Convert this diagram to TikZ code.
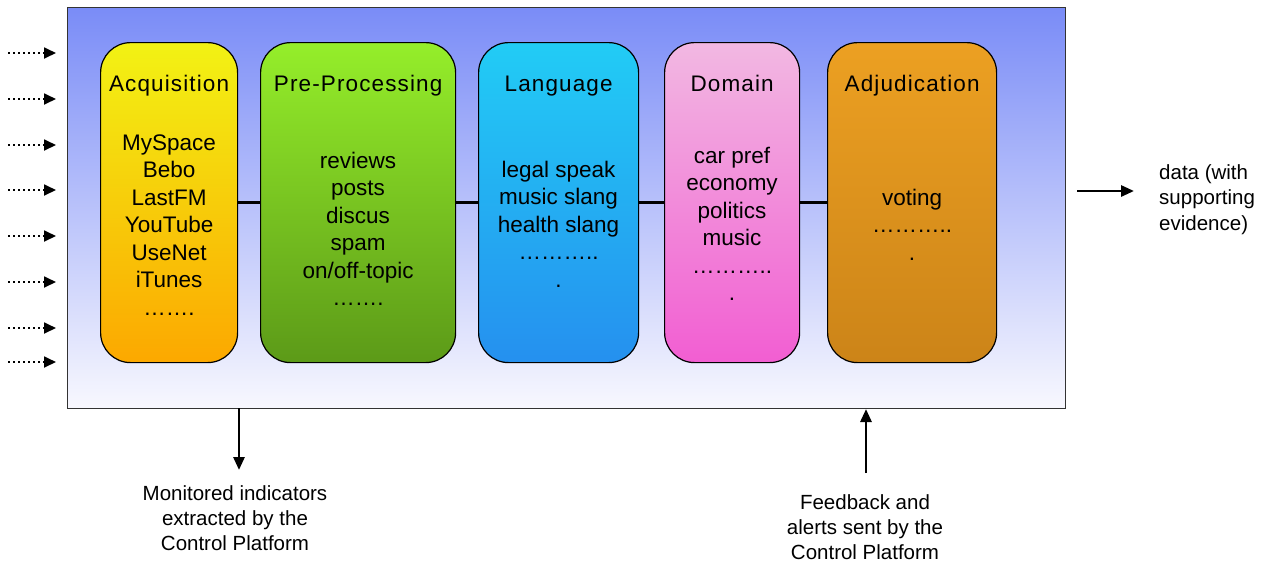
\documentclass[tikz,border=0pt]{standalone}
\usepackage{fontspec}
\setmainfont{Liberation Sans}
\usetikzlibrary{arrows.meta}
\definecolor{frameTop}{HTML}{7A8CF7}
\definecolor{frameBot}{HTML}{F8F8FE}
\definecolor{acqTop}{HTML}{F2F214}
\definecolor{acqBot}{HTML}{FCA800}
\definecolor{preTop}{HTML}{95EE2A}
\definecolor{preBot}{HTML}{5C9A18}
\definecolor{lanTop}{HTML}{22CCF5}
\definecolor{lanBot}{HTML}{2590EF}
\definecolor{domTop}{HTML}{F2B8E2}
\definecolor{domBot}{HTML}{F25ED2}
\definecolor{adjTop}{HTML}{ECA022}
\definecolor{adjBot}{HTML}{CC8418}
\begin{document}
\begin{tikzpicture}[x=1pt,y=-1pt,
  frame/.style={draw=black!80, line width=1.4pt, inner sep=0pt, anchor=north west,
    top color=frameTop, bottom color=frameBot},
  stagebox/.style={draw=black, line width=1.2pt, inner sep=0pt, anchor=north west,
    rounded corners=30pt, minimum height=320},
  stagetitle/.style={anchor=base, inner sep=0pt,
    font=\fontsize{22.5}{27.5}\selectfont\addfontfeature{LetterSpace=5}},
  items/.style={anchor=base, inner sep=0pt, align=center, font=\fontsize{22.5}{27.5}\selectfont},
  note/.style={anchor=base, inner sep=0pt, align=center, font=\fontsize{20.5}{25}\selectfont},
  link/.style={line width=3pt},
  inarrow/.style={line width=1.8pt, dash pattern=on 1.8pt off 3.2pt,
    -{Triangle[length=12pt,width=11pt,sep=0pt]}},
  outarrow/.style={line width=2.8pt, -{Triangle[length=13pt,width=11pt]}}
]
\useasboundingbox (0,0) rectangle (1265,566);

% enclosing platform
\node[frame, minimum width=998, minimum height=401] (frame) at (67,7) {};

% processing stages
\node[stagebox, minimum width=137, top color=acqTop, bottom color=acqBot] (acq) at (100,42) {};
\node[stagebox, minimum width=195, top color=preTop, bottom color=preBot] (pre) at (260,42) {};
\node[stagebox, minimum width=160, top color=lanTop, bottom color=lanBot] (lan) at (478,42) {};
\node[stagebox, minimum width=135, top color=domTop, bottom color=domBot] (dom) at (664,42) {};
\node[stagebox, minimum width=169, top color=adjTop, bottom color=adjBot] (adj) at (827,42) {};

% links between stages
\draw[link] (acq.east) -- (pre.west);
\draw[link] (pre.east) -- (lan.west);
\draw[link] (lan.east) -- (dom.west);
\draw[link] (dom.east) -- (adj.west);

% stage titles
\node[stagetitle] (acqT) at (acq.center |- 0,91) {Acquisition};
\node[stagetitle] (preT) at (pre.center |- 0,91) {Pre-Processing};
\node[stagetitle] (lanT) at (lan.center |- 0,91) {Language};
\node[stagetitle] (domT) at (dom.center |- 0,91) {Domain};
\node[stagetitle] (adjT) at (adj.center |- 0,91) {Adjudication};

% stage contents (base anchor sits on the last line)
\node[items] (acqI) at (acq.center |- 0,315) {MySpace\\Bebo\\LastFM\\YouTube\\UseNet\\iTunes\\…….};
\node[items] (preI) at (pre.center |- 0,305.5) {reviews\\posts\\discus\\spam\\on/off-topic\\…….};
\node[items] (lanI) at (lan.center |- 0,287) {legal speak\\music slang\\health slang\\………..\\.};
\node[items] (domI) at (dom.center |- 0,300.5) {car pref\\economy\\politics\\music\\………..\\.};
\node[items] (adjI) at (adj.center |- 0,260) {voting\\………..\\.};

% incoming sources
\foreach \yy [count=\k] in {53,99,145,190,236,282,328,362} {
  \coordinate (src\k) at (8,\yy);
  \coordinate (dst\k) at (56,\yy);
  \draw[inarrow] (src\k) -- (dst\k);
}

% output
\node[anchor=base west, inner sep=0pt, align=left, font=\fontsize{20.5}{25.5}\selectfont]
  (out) at (1159,230) {data (with\\supporting\\evidence)};
\coordinate (outA) at (1077,191);
\coordinate (outB) at (1134,191);
\draw[outarrow] (outA) -- (outB);

% control platform exchanges
\node[note] (mon) at (235,550) {Monitored indicators\\extracted by the\\Control Platform};
\coordinate (monA) at (239,408);
\coordinate (monB) at (239,470);
\draw[outarrow] (monA) -- (monB);

\node[note] (fb) at (865,559) {Feedback and\\alerts sent by the\\Control Platform};
\coordinate (fbA) at (866,473);
\coordinate (fbB) at (866,409);
\draw[outarrow] (fbA) -- (fbB);
\end{tikzpicture}
\end{document}
